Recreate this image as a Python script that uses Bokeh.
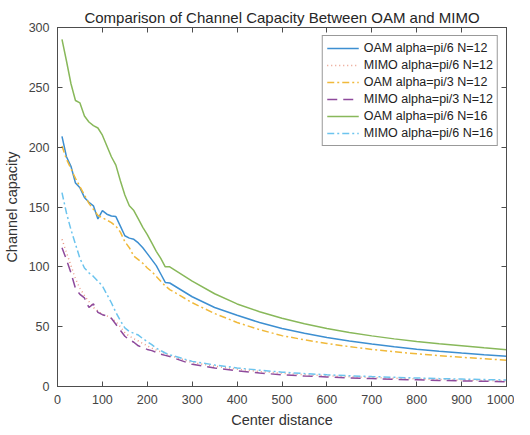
from bokeh.plotting import figure
from bokeh.models import FixedTicker, LinearAxis, Legend, LegendItem, Range1d
from bokeh.embed import file_html
from bokeh.resources import INLINE

distance = [10, 20, 30, 40, 50, 60, 70, 80, 90, 100, 110, 120, 130, 140, 150, 160, 170, 180, 190, 200,
            210, 220, 230, 240, 250, 300, 350, 400, 450, 500, 550, 600, 650, 700, 750, 800, 850, 900, 950, 1000]

oam_pi6_n12 = [209, 192, 184, 170, 166, 158, 154, 151, 140, 147, 144, 142.5, 142, 134, 126, 124, 123, 120, 116, 111,
               106, 101, 94, 87, 86.5, 75, 66, 59.5, 53.5, 48.5, 44.5, 41, 38, 35.5, 33.2, 31.2, 29.5, 28, 26.6, 25.3]
mimo_pi6_n12 = [123, 112, 101, 90, 82, 76, 71, 66, 63, 60, 59, 57, 54, 50, 45, 42, 40, 38, 36, 34,
                32, 30.5, 29, 27.5, 26, 20, 17, 14.5, 12.5, 11, 9.8, 9, 8.2, 7.5, 6.9, 6.4, 5.9, 5.4, 5, 4.6]
oam_pi3_n12 = [201, 190, 182, 174, 167, 160, 153, 148, 143, 141, 139, 137, 134, 129, 121, 116, 109, 106, 103, 99,
               96, 92, 88, 84, 81, 70, 61, 53.5, 47.5, 42.5, 39, 36, 33.3, 31, 29, 27.3, 25.8, 24.4, 23.2, 22]
mimo_pi3_n12 = [116, 106, 95, 82, 77, 74, 66, 69, 62, 60, 59, 57, 52, 47, 42, 39, 37, 34, 32.5, 31,
                30, 28.5, 27, 26, 25, 18.5, 15.5, 13.2, 11.3, 9.8, 8.8, 8, 7.2, 6.6, 6, 5.6, 5.1, 4.7, 4.4, 4]
oam_pi6_n16 = [290, 272, 253, 239, 237, 226, 221, 218, 216, 210, 201, 192, 185, 172, 160, 151, 147, 140, 133, 127,
               120, 113, 107, 100, 100, 88, 77.5, 69, 62.5, 57, 52.5, 48.5, 45.2, 42.3, 39.8, 37.6, 35.7, 34, 32.3, 30.8]
mimo_pi6_n16 = [162, 145, 131, 119, 107, 99, 95, 92, 88, 84, 77, 70, 62, 55, 49, 46, 44.5, 43, 40, 37.5,
                35, 32, 30, 28, 26.5, 21, 18, 15.5, 13.6, 12, 10.8, 9.8, 9, 8.3, 7.7, 7.1, 6.6, 6.2, 5.8, 5.4]

labels = ["OAM alpha=pi/6 N=12", "MIMO alpha=pi/6 N=12", "OAM alpha=pi/3 N=12",
          "MIMO alpha=pi/3 N=12", "OAM alpha=pi/6 N=16", "MIMO alpha=pi/6 N=16"]
x_ticks = [0, 100, 200, 300, 400, 500, 600, 700, 800, 900, 1000]
y_ticks = [0, 50, 100, 150, 200, 250, 300]

FONT = "Liberation Sans"
AX = "#4d4d4d"

p = figure(width=514, height=430, output_backend="svg", toolbar_location=None,
           x_range=Range1d(0, 1000), y_range=Range1d(0, 300),
           min_border_left=50, min_border_right=8, min_border_top=27, min_border_bottom=44)
p.title.text = "Comparison of Channel Capacity Between OAM and MIMO"
p.title.align = "center"
p.title.text_font = FONT
p.title.text_font_size = "15px"
p.title.text_font_style = "normal"
p.title.text_color = "#262626"
p.title.standoff = 3
p.title.offset = 0

p.grid.visible = False
p.outline_line_color = AX
p.outline_line_alpha = 1.0
p.outline_line_width = 1
p.background_fill_color = "white"
p.border_fill_color = "white"

series = [
    (oam_pi6_n12, "#3d8fd1", None),
    (mimo_pi6_n12, "#e99a86", "1 3"),
    (oam_pi3_n12, "#f0b93a", "7 3 2 3"),
    (mimo_pi3_n12, "#8e4a9c", "10 6"),
    (oam_pi6_n16, "#88b85a", None),
    (mimo_pi6_n16, "#6cc4ee", "7 3 2 3"),
]
items = []
for (ys, col, dash), lab in zip(series, labels):
    kw = dict(line_color=col, line_width=1.5)
    if dash:
        kw["line_dash"] = dash
    r = p.line(distance, ys, **kw)
    items.append(LegendItem(label=lab, renderers=[r]))

for ax in (p.xaxis[0], p.yaxis[0]):
    ax.axis_line_color = AX
    ax.major_tick_line_color = AX
    ax.major_tick_in = 5
    ax.major_tick_out = 0
    ax.minor_tick_line_color = None
    ax.major_label_text_font = FONT
    ax.major_label_text_font_size = "12.5px"
    ax.major_label_text_color = "#444444"
    ax.axis_label_text_font = FONT
    ax.axis_label_text_font_size = "14.5px"
    ax.axis_label_text_font_style = "normal"
    ax.axis_label_text_color = "#333333"
p.xaxis[0].ticker = FixedTicker(ticks=x_ticks)
p.yaxis[0].ticker = FixedTicker(ticks=y_ticks)
p.xaxis[0].axis_label = "Center distance"
p.yaxis[0].axis_label = "Channel capacity"
p.xaxis[0].major_label_standoff = 8
p.yaxis[0].major_label_standoff = 8
p.xaxis[0].axis_label_standoff = 5
p.yaxis[0].axis_label_standoff = 6

# Box axes on top and right: inward ticks, labels not painted
top = LinearAxis(ticker=FixedTicker(ticks=x_ticks), major_label_text_font_size="1px",
                 major_label_text_color=None, major_tick_in=5, major_tick_out=0,
                 minor_tick_line_color=None, axis_line_color=AX, major_tick_line_color=AX,
                 major_label_standoff=0)
right = LinearAxis(ticker=FixedTicker(ticks=y_ticks), major_label_text_font_size="1px",
                   major_label_text_color=None, major_tick_in=5, major_tick_out=0,
                   minor_tick_line_color=None, axis_line_color=AX, major_tick_line_color=AX,
                   major_label_standoff=0)
p.add_layout(top, "above")
p.add_layout(right, "right")

legend = Legend(items=items, location="top_right")
legend.label_text_font = FONT
legend.label_text_font_size = "12.5px"
legend.label_text_color = "#222222"
legend.glyph_width = 32
legend.glyph_height = 16
legend.label_height = 16
legend.label_standoff = 5
legend.spacing = 1
legend.padding = 4
legend.margin = 8
legend.border_line_color = "#333333"
legend.border_line_width = 1
legend.background_fill_color = "white"
legend.background_fill_alpha = 1.0
p.add_layout(legend)

open("out.html", "w").write(file_html(p, INLINE))
